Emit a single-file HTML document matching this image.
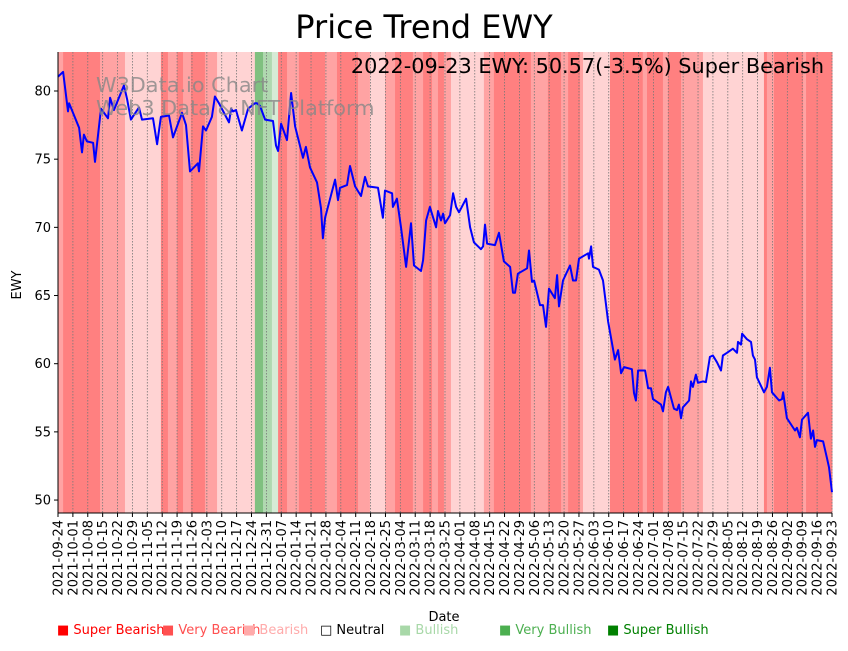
<!DOCTYPE html>
<html><head><meta charset="utf-8"><style>
body{margin:0;background:#fff;font-family:"Liberation Sans","DejaVu Sans",sans-serif}
svg text{font-family:"DejaVu Sans","Liberation Sans",sans-serif}
</style></head><body>
<svg id="chart" width="848" height="646" xmlns="http://www.w3.org/2000/svg">
<g id="bands"></g>
<g id="grid"></g>
<g id="line"></g>
<g id="axes"></g>
<text x="424" y="38" font-size="32" text-anchor="middle">Price Trend EWY</text>
<text x="96" y="92" font-size="20.8" fill="#888" opacity="0.8">W3Data.io Chart</text>
<text x="96" y="115" font-size="20.8" fill="#888" opacity="0.8">Web3 Data &amp; NFT Platform</text>
<text x="824" y="73" font-size="20.8" text-anchor="end">2022-09-23 EWY: 50.57(-3.5%) Super Bearish</text>
<text x="21" y="285" font-size="13" text-anchor="middle" transform="rotate(-90 21 285)">EWY</text>
<text x="444" y="621" font-size="13" text-anchor="middle">Date</text>
<g font-size="13">
<text x="57" y="634" fill="#ff0000">■ Super Bearish</text>
<text x="162" y="634" fill="#ff5050">■ Very Bearish</text>
<text x="243" y="634" fill="#ffaaaa">■ Bearish</text>
<text x="320" y="634" fill="#000">□ Neutral</text>
<text x="399" y="634" fill="#a8d8a8">■ Bullish</text>
<text x="499" y="634" fill="#4caf50">■ Very Bullish</text>
<text x="607" y="634" fill="#008000">■ Super Bullish</text>
</g>
</svg>
<script>
const startDate = "2021-09-24";
const dayOffsets = [0,2.4,4.7,5.2,9.9,11.3,12.2,13.6,16.5,17.4,20.2,23.5,24.5,26.3,31.0,32.5,34.3,38.1,39.5,44.7,46.6,48.4,52.2,54.1,58.3,60.2,62.1,65.8,66.3,68.2,69.6,72.4,73.8,75.7,80.4,81.4,82.3,83.7,86.5,89.4,92.6,93.6,95.0,97.4,101.1,102.5,103.5,104.9,107.7,109.6,111.5,115.2,116.6,118.5,121.8,123.7,124.6,125.6,130.3,131.7,132.6,135.9,137.3,139.7,142.5,144.4,145.8,150.5,152.8,153.8,157.1,157.5,159.4,161.3,163.7,166.0,167.4,170.7,171.7,173.1,174.9,177.8,178.7,180.1,181.1,182.0,184.4,185.8,187.2,188.6,191.9,193.8,195.6,198.9,199.9,200.8,201.8,205.5,207.4,209.7,212.6,214.0,214.9,216.3,220.6,221.5,222.9,223.9,226.7,228.1,229.5,230.9,233.7,234.7,235.6,237.5,240.8,242.2,243.6,245.0,249.3,249.7,250.7,251.6,254.4,256.3,258.7,261.9,263.4,264.8,266.2,269.9,270.9,271.8,272.8,276.1,277.5,278.9,279.8,283.6,284.5,285.9,286.9,289.7,291.1,292.0,293.0,293.9,296.8,297.7,298.6,300.0,301.0,303.3,304.7,306.6,308.0,309.9,311.8,312.7,314.6,317.4,319.3,319.8,321.2,321.7,324.0,325.9,326.8,327.8,328.7,332.0,333.4,334.8,335.8,339.1,340.5,341.0,342.8,346.6,347.5,348.9,349.9,352.7,354.1,355.1,356.0,356.9,359.8,361.6,362.6,364];
const prices = [81.05,81.4,78.5,79.1,77.3,75.5,76.8,76.3,76.2,74.8,78.7,78.0,79.5,78.6,80.4,79.4,77.9,78.8,77.9,78.0,76.1,78.1,78.2,76.6,78.4,77.5,74.1,74.7,74.1,77.4,77.1,78.1,79.6,79.1,77.7,78.7,78.5,78.6,77.1,78.7,79.1,79.1,78.9,77.9,77.8,76.0,75.6,77.6,76.4,79.85,77.4,75.1,75.9,74.4,73.3,71.4,69.2,70.7,73.5,72.0,72.9,73.1,74.5,73.0,72.3,73.7,73.0,72.9,70.7,72.7,72.5,71.5,72.1,70.0,67.1,70.3,67.2,66.8,67.6,70.5,71.5,70.0,71.2,70.5,71.0,70.3,70.9,72.5,71.5,71.1,72.1,70.0,68.9,68.4,68.6,70.2,68.8,68.7,69.6,67.5,67.1,65.2,65.2,66.6,67.0,68.3,66.0,66.1,64.3,64.3,62.7,65.5,64.8,66.5,64.2,66.1,67.2,66.1,66.1,67.7,68.1,67.7,68.6,67.1,66.9,66.1,63.1,60.3,61.0,59.3,59.75,59.6,57.85,57.3,59.5,59.5,58.2,58.2,57.4,57.0,56.5,57.9,58.3,56.7,56.6,57.0,56.0,56.8,57.3,58.7,58.3,59.2,58.6,58.7,58.65,60.5,60.6,60.1,59.5,60.6,60.8,61.1,60.8,61.6,61.4,62.2,61.8,61.6,60.6,60.3,59.0,57.9,58.3,59.7,57.9,57.3,57.4,57.9,56.0,55.1,55.3,54.6,55.9,56.4,54.5,55.1,53.9,54.4,54.3,53.1,52.4,50.57];
const bandStart = [0,2.4,19.75,31.5,48.4,51.7,56,58.8,62.5,69.1,74.8,92.6,96.4,100.6,103.5,107.7,113.3,125.6,131.2,141.1,146.7,153.8,158.5,166.9,171.7,175.9,178.7,181.5,184.8,200.3,205,222.4,230.4,236.6,239.9,245.5,246.9,259.6,275,277,284.5,286.9,293,303.3,332,333.4,336.7,350.4,351.8];
const bandEnd = [2.4,19.75,31.5,48.4,51.7,56,58.8,62.5,69.1,74.8,92.6,96.4,100.6,103.5,107.7,113.3,125.6,131.2,141.1,146.7,153.8,158.5,166.9,171.7,175.9,178.7,181.5,184.8,200.3,205,222.4,230.4,236.6,239.9,245.5,246.9,259.6,275,277,284.5,286.9,293,303.3,332,333.4,336.7,350.4,351.8,364];
const bandLevel = [2,3,2,1,3,2,3,2,3,2,1,-3,-2,-1,3,2,3,2,3,2,1,2,3,2,3,2,3,2,1,2,3,2,3,2,3,2,1,3,2,3,2,3,2,1,3,2,3,2,3];
const yTicks = [50,55,60,65,70,75,80];

const NS="http://www.w3.org/2000/svg";
const X0=58,X1=832,Y0=513,Y1=52,DMAX=364,VMIN=49.05,VMAX=82.86;
const xs=d=>X0+(d/DMAX)*(X1-X0);
const ys=v=>Y0-(v-VMIN)/(VMAX-VMIN)*(Y0-Y1);
const colors={"3":"#ff8080","2":"#ffa3a3","1":"#ffd3d3","-1":"#d6ebd6","-2":"#b0d8b0","-3":"#80c080"};
function mk(tag,attrs,parent){const e=document.createElementNS(NS,tag);for(const k in attrs)e.setAttribute(k,attrs[k]);parent.appendChild(e);return e;}
const gB=document.getElementById('bands');
bandStart.forEach((s,i)=>{
  const r=mk('rect',{x:xs(s),y:Y1,width:Math.max(0,xs(bandEnd[i])-xs(s))+0.5,height:Y0-Y1,fill:colors[String(bandLevel[i])]},gB);
  
  
});
const gG=document.getElementById('grid'),gA=document.getElementById('axes');
const sd=new Date(startDate+"T00:00:00Z");
for(let d=0;d<=DMAX;d+=7){
  const x=xs(d);
  const gl=mk('line',{x1:x,x2:x,y1:Y1,y2:Y0,stroke:'#777','stroke-width':0.8,'stroke-dasharray':'1.5,1.5'},gG);
  
  
  mk('line',{x1:x,x2:x,y1:Y0,y2:Y0+4,stroke:'#000'},gA);
  const dt=new Date(sd.getTime()+d*86400000).toISOString().slice(0,10);
  const t=mk('text',{x:x+4.5,y:Y0+7,'font-size':13,'text-anchor':'end',transform:`rotate(-90 ${x+4.5} ${Y0+7})`},gA);
  t.textContent=dt;
  
  
}
yTicks.forEach(v=>{
  const y=ys(v);
  mk('line',{x1:X0-4,x2:X0,y1:y,y2:y,stroke:'#000'},gA);
  const t=mk('text',{x:X0-7,y:y+4.5,'font-size':13,'text-anchor':'end'},gA);
  t.textContent=v;
  
  
});
const ax1=mk('line',{x1:X0,x2:X0,y1:Y1,y2:Y0,stroke:'#000'},gA);


const ax2=mk('line',{x1:X0,x2:X1,y1:Y0,y2:Y0,stroke:'#000'},gA);


const pts=dayOffsets.map((d,i)=>xs(d).toFixed(1)+","+ys(prices[i]).toFixed(1)).join(" ");
const pl=mk('polyline',{points:pts,fill:'none',stroke:'#0000ff','stroke-width':2,'stroke-linejoin':'round'},document.getElementById('line'));


</script>
</body></html>
